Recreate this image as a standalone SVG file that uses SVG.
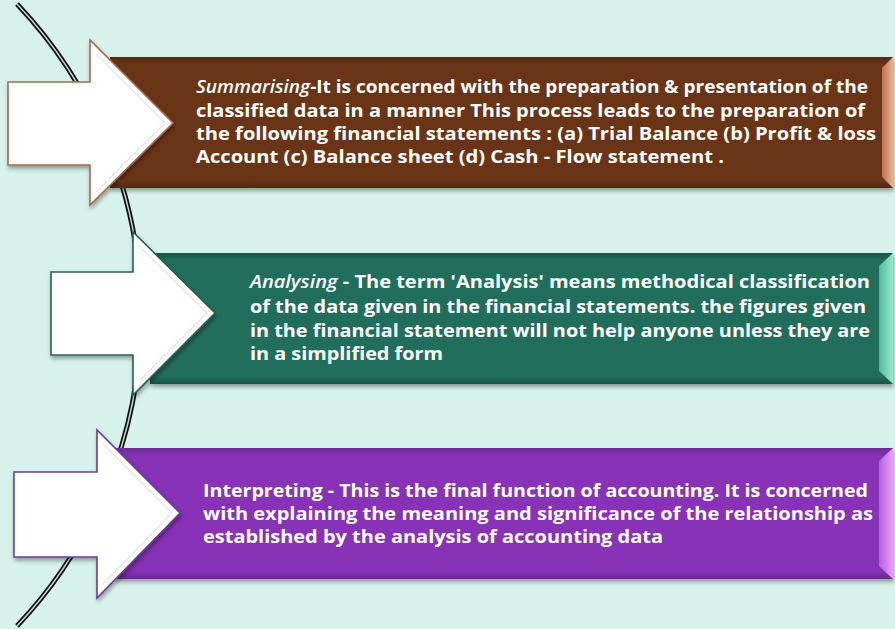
<svg xmlns="http://www.w3.org/2000/svg" width="895" height="629" viewBox="0 0 895 629">
<defs>
<style>
.txt{font-family:"Open Sans","Liberation Sans","DejaVu Sans",sans-serif;font-weight:bold;font-size:18px;fill:#ffffff}
.it{font-style:italic;font-weight:600}
.arrow{fill:#ffffff;stroke-width:1.6}
.bev{fill:none;stroke:#ebe5e7;stroke-width:1.5}
</style>
<filter id="sh" x="-10%" y="-10%" width="130%" height="140%">
<feDropShadow dx="1" dy="3" stdDeviation="2" flood-color="#000" flood-opacity="0.35"/>
</filter>
<linearGradient id="gBrown" x1="0" y1="0" x2="0" y2="1">
<stop offset="0" stop-color="#5a2a14"/><stop offset="0.06" stop-color="#6b3519"/><stop offset="0.94" stop-color="#6b3519"/><stop offset="1" stop-color="#55280f"/>
</linearGradient>
<linearGradient id="gGreen" x1="0" y1="0" x2="0" y2="1">
<stop offset="0" stop-color="#17584a"/><stop offset="0.06" stop-color="#226e5b"/><stop offset="0.94" stop-color="#226e5b"/><stop offset="1" stop-color="#155545"/>
</linearGradient>
<linearGradient id="gPurple" x1="0" y1="0" x2="0" y2="1">
<stop offset="0" stop-color="#6e2c98"/><stop offset="0.06" stop-color="#8733b7"/><stop offset="0.94" stop-color="#8733b7"/><stop offset="1" stop-color="#682990"/>
</linearGradient>
<linearGradient id="bBrown" x1="0" y1="0" x2="1" y2="0">
<stop offset="0" stop-color="#b9744f"/><stop offset="1" stop-color="#e8b294"/>
</linearGradient>
<linearGradient id="bGreen" x1="0" y1="0" x2="1" y2="0">
<stop offset="0" stop-color="#4fb89c"/><stop offset="1" stop-color="#9be8d2"/>
</linearGradient>
<linearGradient id="bPurple" x1="0" y1="0" x2="1" y2="0">
<stop offset="0" stop-color="#b25ee0"/><stop offset="1" stop-color="#eaa2f7"/>
</linearGradient>
<linearGradient id="aW" x1="0" y1="0" x2="0" y2="1">
<stop offset="0" stop-color="#ffffff"/><stop offset="0.8" stop-color="#fcfcfc"/><stop offset="1" stop-color="#efeff0"/>
</linearGradient>
</defs>
<rect x="0" y="0" width="895" height="629" fill="#d7f2eb"/>

<g id="connectors">
<path d="M17,4 A452,452 0 0 1 17,626" fill="none" stroke="#111" stroke-width="5"/>
<path d="M17,4 A452,452 0 0 1 17,626" fill="none" stroke="#c9d6d2" stroke-width="1.5"/>
</g>

<g id="node-summarising">
<g filter="url(#sh)">
<rect x="110" y="57" width="783" height="131" fill="url(#gBrown)"/>
<polygon points="882,68 893,57 893,188 882,177" fill="url(#bBrown)"/>
</g>
<g filter="url(#sh)">
<polygon class="arrow" points="8,82 90,82 90,40 173,123 90,205 90,165 8,165" fill="url(#aW)" stroke="#a86a4c"/>
</g>
<polyline class="bev" points="96,54 165,123 96,192"/>
<text class="txt">
<tspan x="196" y="93" textLength="672" lengthAdjust="spacingAndGlyphs"><tspan class="it">Summarising</tspan>-It is concerned with the preparation &amp; presentation of the</tspan>
<tspan x="196" y="117" textLength="669" lengthAdjust="spacingAndGlyphs">classified data in a manner This process leads to the preparation of</tspan>
<tspan x="196" y="140" textLength="680" lengthAdjust="spacingAndGlyphs">the following financial statements : (a) Trial Balance (b) Profit &amp; loss</tspan>
<tspan x="196" y="163" textLength="528" lengthAdjust="spacingAndGlyphs">Account (c) Balance sheet (d) Cash - Flow statement .</tspan>
</text>
</g>

<g id="node-analysing">
<g filter="url(#sh)">
<rect x="150" y="253" width="743" height="131" fill="url(#gGreen)"/>
<polygon points="879,266 893,253 893,384 879,371" fill="url(#bGreen)"/>
</g>
<g filter="url(#sh)">
<polygon class="arrow" points="51,272 133,272 133,232 215,313 133,395 133,355 51,355" fill="url(#aW)" stroke="#2b5f51"/>
</g>
<polyline class="bev" points="139,246 207,313 139,381"/>
<text class="txt">
<tspan x="250" y="288" textLength="620" lengthAdjust="spacingAndGlyphs"><tspan class="it">Analysing</tspan> - The term 'Analysis' means methodical classification</tspan>
<tspan x="250" y="313" textLength="616" lengthAdjust="spacingAndGlyphs">of the data given in the financial statements. the figures given</tspan>
<tspan x="250" y="337" textLength="620" lengthAdjust="spacingAndGlyphs">in the financial statement will not help anyone unless they are</tspan>
<tspan x="250" y="360" textLength="193" lengthAdjust="spacingAndGlyphs">in a simplified form</tspan>
</text>
</g>

<g id="node-interpreting">
<g filter="url(#sh)">
<rect x="115" y="448" width="778" height="131" fill="url(#gPurple)"/>
<polygon points="879,461 893,448 893,579 879,566" fill="url(#bPurple)"/>
</g>
<g filter="url(#sh)">
<polygon class="arrow" points="14,472 97,472 97,430 180,513 97,598 97,557 14,557" fill="url(#aW)" stroke="#6c3c98"/>
</g>
<polyline class="bev" points="103,444 172,513 103,584"/>
<text class="txt">
<tspan x="203" y="497" textLength="665" lengthAdjust="spacingAndGlyphs">Interpreting - This is the final function of accounting. It is concerned</tspan>
<tspan x="203" y="520" textLength="670" lengthAdjust="spacingAndGlyphs">with explaining the meaning and significance of the relationship as</tspan>
<tspan x="203" y="543" textLength="460" lengthAdjust="spacingAndGlyphs">established by the analysis of accounting data</tspan>
</text>
</g>
</svg>
